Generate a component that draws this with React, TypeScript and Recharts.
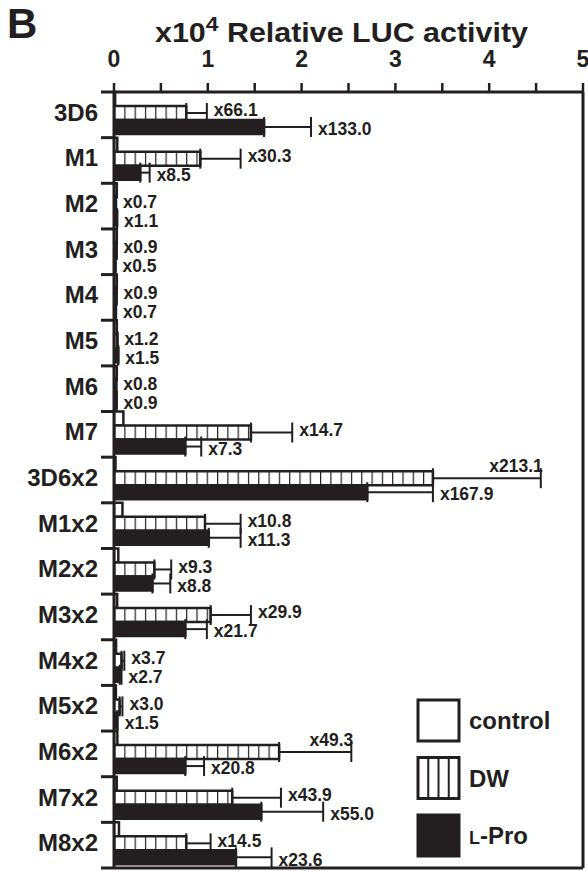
import React from 'react';
import { BarChart, Bar, XAxis, YAxis, ErrorBar, LabelList, Legend } from 'recharts';

const categories = ['3D6', 'M1', 'M2', 'M3', 'M4', 'M5', 'M6', 'M7', '3D6x2', 'M1x2', 'M2x2', 'M3x2', 'M4x2', 'M5x2', 'M6x2', 'M7x2', 'M8x2'];
const controlValues = [0.012, 0.035, 0.03, 0.03, 0.03, 0.03, 0.03, 0.10, 0.016, 0.09, 0.046, 0.034, 0.022, 0.02, 0.036, 0.029, 0.053];
const dwValues = [0.77, 0.92, 0.021, 0.027, 0.027, 0.036, 0.024, 1.46, 3.40, 0.97, 0.43, 1.03, 0.08, 0.06, 1.76, 1.26, 0.77];
const dwErrors = [0.22, 0.43, 0, 0, 0, 0, 0, 0.44, 1.15, 0.38, 0.18, 0.43, 0.03, 0.03, 0.77, 0.52, 0.26];
const lproValues = [1.60, 0.28, 0.033, 0.015, 0.021, 0.045, 0.027, 0.76, 2.70, 1.01, 0.41, 0.76, 0.06, 0.03, 0.76, 1.57, 1.30];
const lproErrors = [0.50, 0.10, 0, 0, 0, 0, 0, 0.17, 0.70, 0.34, 0.19, 0.23, 0.02, 0.01, 0.20, 0.66, 0.38];
const dwFold = ['66.1', '30.3', '0.7', '0.9', '0.9', '1.2', '0.8', '14.7', '213.1', '10.8', '9.3', '29.9', '3.7', '3.0', '49.3', '43.9', '14.5'];
const lproFold = ['133.0', '8.5', '1.1', '0.5', '0.7', '1.5', '0.9', '7.3', '167.9', '11.3', '8.8', '21.7', '2.7', '1.5', '20.8', '55.0', '23.6'];
const xTicks = [0, 0.5, 1, 1.5, 2, 2.5, 3, 3.5, 4, 4.5, 5];
const dwLabelsAbove = ['3D6x2', 'M6x2'];

const data = categories.map((name, i) => ({
  name,
  control: controlValues[i],
  dw: dwValues[i],
  dwErr: [0, dwErrors[i]],
  lpro: lproValues[i],
  lproErr: [0, lproErrors[i]],
  dwLabel: 'x' + dwFold[i],
  lproLabel: 'x' + lproFold[i],
  spacer: 0,
}));

const INK = '#231f20';
const FONT = '"Liberation Sans", Arial, Helvetica, sans-serif';
const W = 588;
const H = 871;
const PLOT_LEFT = 114;
const PLOT_RIGHT = 583;
const PLOT_TOP = 92;
const PLOT_BOTTOM = 868;
const BAND = (PLOT_BOTTOM - PLOT_TOP) / categories.length;
const LABEL_SIZE = 17.5;

const makeLabel = (vals: number[], errs: number[], dy: number, aboveNames: string[]) => (props: any) => {
  const { x, y, width, height, index, value } = props;
  const i = index as number;
  const v = vals[i];
  const ppu = v > 0 ? width / v : 0;
  const end = x + width + errs[i] * ppu;
  if (aboveNames.includes(categories[i])) {
    return (
      <text x={end + 2} y={y + 1} textAnchor="end" fontFamily={FONT} fontWeight="bold" fontSize={LABEL_SIZE} fill={INK}>
        {value}
      </text>
    );
  }
  return (
    <text x={end + 7} y={y + height / 2 + dy + 6.3} fontFamily={FONT} fontWeight="bold" fontSize={LABEL_SIZE} fill={INK}>
      {value}
    </text>
  );
};

const XTick = (props: any) => {
  const { x, y, payload } = props;
  const v = payload.value as number;
  if (!Number.isInteger(v)) return null;
  return (
    <text x={x} y={y - 16} textAnchor="middle" fontFamily={FONT} fontWeight="bold" fontSize={23} fill={INK}>
      {String(v)}
    </text>
  );
};

const YTick = (props: any) => {
  const { x, y, payload, index } = props;
  return (
    <g>
      {index === 0 && <line x1={x - 13} x2={x} y1={y - BAND / 2} y2={y - BAND / 2} stroke={INK} strokeWidth={3} />}
      <line x1={x - 13} x2={x} y1={y + BAND / 2} y2={y + BAND / 2} stroke={INK} strokeWidth={3} />
      <text x={x - 16} y={y + 6} textAnchor="end" fontFamily={FONT} fontWeight="bold" fontSize={24} fill={INK}>
        {payload.value}
      </text>
    </g>
  );
};

const LegendContent = () => {
  const items = [
    { label: 'control', kind: 'control' },
    { label: 'DW', kind: 'dw' },
    { label: 'L-Pro', kind: 'lpro' },
  ];
  return (
    <svg width={170} height={165} style={{ display: 'block' }}>
      {items.map((it, k) => {
        const top = 2 + k * 57.5;
        return (
          <g key={it.kind}>
            <rect x={2} y={top} width={41} height={41} fill={it.kind === 'lpro' ? INK : 'white'} stroke={INK} strokeWidth={3} />
            {it.kind === 'dw' && [1, 2, 3].map((j) => (
              <line key={j} x1={2 + j * 10.25} x2={2 + j * 10.25} y1={top} y2={top + 41} stroke={INK} strokeWidth={2} />
            ))}
            <text x={53} y={top + 29} fontFamily={FONT} fontWeight="bold" fontSize={24} fill={INK}>
              {it.kind === 'lpro' ? (
                <>
                  <tspan fontSize={18}>L</tspan>
                  <tspan>-Pro</tspan>
                </>
              ) : (
                it.label
              )}
            </text>
          </g>
        );
      })}
    </svg>
  );
};

export default function App() {
  return (
    <div style={{ position: 'absolute', left: 0, top: 0, width: W, height: H, background: 'white' }}>
      <svg width={0} height={0} style={{ position: 'absolute' }}>
        <defs>
          <pattern id="hatch" patternUnits="userSpaceOnUse" x={PLOT_LEFT} y={0} width={10.3} height={10}>
            <rect x={0} y={0} width={10.3} height={10} fill="white" />
            <line x1={0} x2={0} y1={0} y2={10} stroke={INK} strokeWidth={2.4} />
          </pattern>
        </defs>
      </svg>
      <BarChart
        width={W}
        height={H}
        data={data}
        layout="vertical"
        margin={{ top: 0, right: 0, bottom: 0, left: 0 }}
        barGap={0}
        barSize={14}
      >
        <XAxis
          type="number"
          orientation="top"
          domain={[0, 5]}
          ticks={xTicks}
          interval={0}
          height={PLOT_TOP}
          tickSize={9}
          tickMargin={0}
          axisLine={{ stroke: INK, strokeWidth: 3 }}
          tickLine={{ stroke: INK, strokeWidth: 2.5 }}
          tick={<XTick />}
          allowDataOverflow
        />
        <XAxis
          xAxisId="bottom"
          type="number"
          orientation="bottom"
          domain={[0, 5]}
          height={H - PLOT_BOTTOM}
          tick={false}
          tickLine={false}
          axisLine={{ stroke: INK, strokeWidth: 3 }}
        />
        <YAxis
          type="category"
          dataKey="name"
          width={PLOT_LEFT}
          interval={0}
          tickSize={0}
          tickMargin={0}
          axisLine={{ stroke: INK, strokeWidth: 3 }}
          tickLine={false}
          tick={<YTick />}
        />
        <YAxis
          yAxisId="right"
          type="category"
          dataKey="name"
          orientation="right"
          width={W - PLOT_RIGHT}
          tick={false}
          tickLine={false}
          axisLine={{ stroke: INK, strokeWidth: 3 }}
        />
        <Legend
          layout="horizontal"
          verticalAlign="middle"
          align="center"
          content={<LegendContent />}
          wrapperStyle={{ position: 'absolute', left: 416, top: 698, width: 170, height: 165 }}
        />
        <Bar dataKey="control" name="control" fill="white" stroke={INK} strokeWidth={2.5} isAnimationActive={false} />
        <Bar dataKey="dw" name="DW" fill="url(#hatch)" stroke={INK} strokeWidth={2.5} isAnimationActive={false}>
          <ErrorBar dataKey="dwErr" direction="x" width={10} stroke={INK} strokeWidth={2} />
          <LabelList dataKey="dwLabel" content={makeLabel(dwValues, dwErrors, -3, dwLabelsAbove)} />
        </Bar>
        <Bar dataKey="lpro" name="L-Pro" fill={INK} stroke={INK} strokeWidth={2.5} isAnimationActive={false}>
          <ErrorBar dataKey="lproErr" direction="x" width={10} stroke={INK} strokeWidth={2} />
          <LabelList dataKey="lproLabel" content={makeLabel(lproValues, lproErrors, 2, [])} />
        </Bar>
        <Bar dataKey="spacer" barSize={3} fill="none" stroke="none" legendType="none" isAnimationActive={false} />
      </BarChart>
      <svg width={W} height={80} style={{ position: 'absolute', left: 0, top: 0, pointerEvents: 'none' }}>
        <text x={7} y={38} fontFamily={FONT} fontWeight="bold" fontSize={42} fill={INK}>B</text>
        <text x={155} y={42} fontFamily={FONT} fontWeight="bold" fontSize={28} fill={INK} textLength={373} lengthAdjust="spacingAndGlyphs">
          x10
          <tspan dy={-11} fontSize={21}>4</tspan>
          <tspan dy={11}> Relative LUC activity</tspan>
        </text>
      </svg>
    </div>
  );
}
